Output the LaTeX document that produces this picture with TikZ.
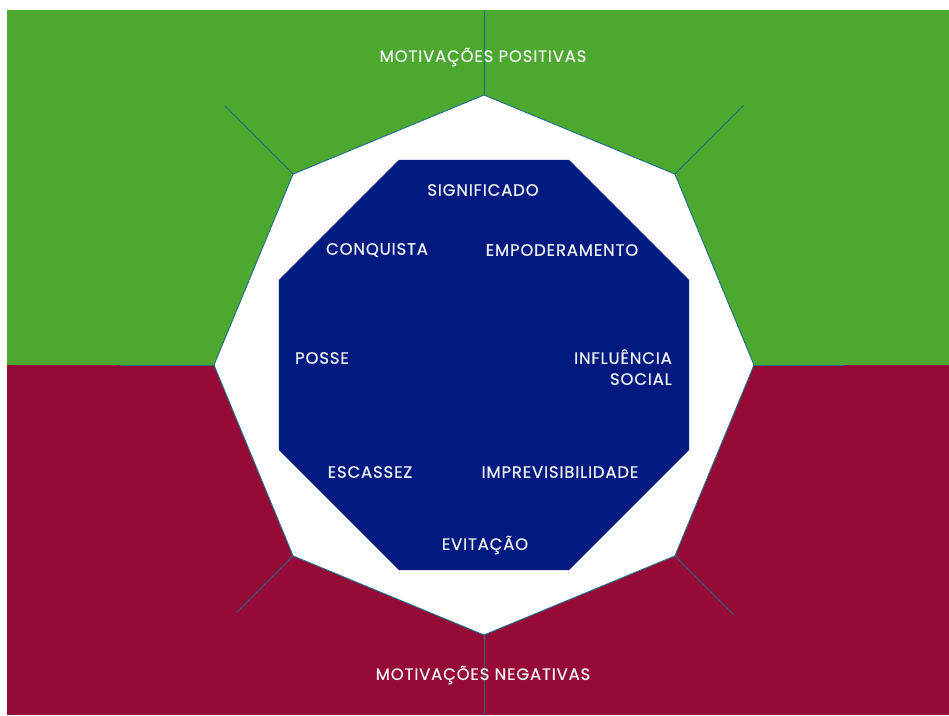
\documentclass[tikz,border=0pt]{standalone}
\usepackage{fontspec}
\setmainfont{Poppins}[FakeBold=0.6,LetterSpace=5]
\usepackage{tikz}
\usetikzlibrary{
    shapes.geometric
}
\definecolor{posgreen}{HTML}{4CA82E}
\definecolor{negred}{HTML}{950A37}
\definecolor{corenavy}{HTML}{001A80}
\definecolor{spoketeal}{HTML}{1B6B8A}
\definecolor{labelwhite}{HTML}{F0F0F0}
\tikzstyle{ring}=[
    regular polygon,
    regular polygon sides=8,
    shape border rotate=22.5,
    minimum size=540pt,
    outer sep=0pt,
    draw=spoketeal,
    line width=0.9pt,
    fill=white
]
\tikzstyle{core}=[
    regular polygon,
    regular polygon sides=8,
    minimum size=444pt,
    outer sep=0pt,
    fill=corenavy
]
\tikzstyle{motive}=[
    text=labelwhite,
    font=\fontsize{16.5}{21}\selectfont,
    align=center,
    inner sep=0pt
]
\tikzstyle{spoke}=[line width=1pt,draw=spoketeal]

\begin{document}
\begin{tikzpicture}[x=1pt,y=1pt]
\useasboundingbox (-484,-350) rectangle (465,365);
% positive half above, negative half below
\fill[posgreen] (-477,0) rectangle (465,355);
\fill[negred] (-477,-350) rectangle (465,0);

\node[ring] (outer) at (0,0) {};
% spokes out of the eight corners
\foreach \a/\r in {90/355,45/367,0/361,315/353,270/350,225/350,180/364,135/366}{
    \coordinate (tip\a) at (\a:\r);
    \draw[spoke] (outer.\a) -- (tip\a);
}
\node[core] (inner) at (0,0) {};

\node[motive] (pos) at (-1,308) {MOTIVAÇÕES POSITIVAS};
\node[motive] (neg) at (-1,-310) {MOTIVAÇÕES NEGATIVAS};
\node[motive] (signif) at (-1,175) {SIGNIFICADO};
\node[motive] (conq) at (-107,115) {CONQUISTA};
\node[motive] (empod) at (78,115) {EMPODERAMENTO};
\node[motive] (posse) at (-162,7) {POSSE};
\node[motive,align=right,anchor=east] (influ) at (188,-2) {INFLUÊNCIA\\SOCIAL};
\node[motive] (escass) at (-114,-107) {ESCASSEZ};
\node[motive] (imprev) at (76,-107) {IMPREVISIBILIDADE};
\node[motive] (evit) at (1,-180) {EVITAÇÃO};
\end{tikzpicture}
\end{document}
